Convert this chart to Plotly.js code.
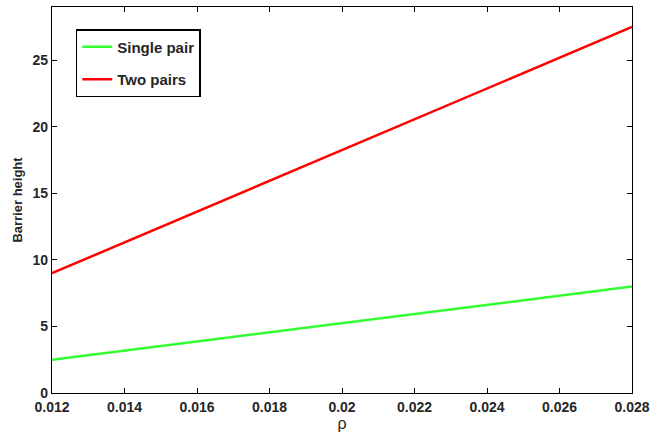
<!DOCTYPE html>
<html>
<head>
<meta charset="utf-8">
<script src="https://cdn.plot.ly/plotly-3.0.1.min.js"></script>
<style>html,body{margin:0;padding:0;background:#fff;}#chart{width:651px;height:436px;}</style>
</head>
<body>
<div id="chart"></div>
<script>
const rho = [0.012, 0.014, 0.016, 0.018, 0.020, 0.022, 0.024, 0.026, 0.028];
const singlePair = [2.5, 3.19, 3.88, 4.56, 5.25, 5.94, 6.63, 7.31, 8.0];
const twoPairs = [9.0, 11.31, 13.63, 15.94, 18.25, 20.56, 22.88, 25.19, 27.5];
const xTicks = [0.012, 0.014, 0.016, 0.018, 0.02, 0.022, 0.024, 0.026, 0.028];
const xTickLabels = ['0.012', '0.014', '0.016', '0.018', '0.02', '0.022', '0.024', '0.026', '0.028'];
const yTicks = [0, 5, 10, 15, 20, 25];

const traces = [
  {x: rho, y: singlePair, name: 'Single pair', mode: 'lines', legendgroup: 'a',
   line: {color: '#33ff33', width: 2.5}},
  {x: rho, y: twoPairs, name: 'Two pairs', mode: 'lines', legendgroup: 'b',
   line: {color: '#ff0000', width: 2.5}}
];

const axisCommon = {
  showgrid: false, zeroline: false, showline: true, linecolor: '#000', linewidth: 1.2,
  mirror: 'ticks', ticks: 'inside', ticklen: 5, tickwidth: 1, tickcolor: '#000',
  tickfont: {family: 'Liberation Sans, Arial, sans-serif', size: 14, color: '#262626', weight: 'bold'}
};

const layout = {
  width: 651, height: 436,
  margin: {l: 52, r: 19, t: 7, b: 43},
  paper_bgcolor: '#fff', plot_bgcolor: '#fff',
  showlegend: true,
  xaxis: Object.assign({}, axisCommon, {
    range: [0.012, 0.028], tickvals: xTicks, ticktext: xTickLabels,
    ticklabelstandoff: 1,
    title: {text: 'ρ', font: {family: 'Liberation Sans, Arial, sans-serif', size: 16, color: '#262626'}, standoff: 2}
  }),
  yaxis: Object.assign({}, axisCommon, {
    range: [0, 29], tickvals: yTicks,
    title: {text: 'Barrier height', font: {family: 'Liberation Sans, Arial, sans-serif', size: 13, color: '#262626', weight: 'bold'}, standoff: 6}
  }),
  legend: {
    x: 0.041, y: 0.943, xanchor: 'left', yanchor: 'top',
    bgcolor: '#fff', bordercolor: '#000', borderwidth: 1.5,
    traceorder: 'grouped', tracegroupgap: 10,
    font: {family: 'Liberation Sans, Arial, sans-serif', size: 15, color: '#262626', weight: 'bold'}
  }
};

Plotly.newPlot('chart', traces, layout, {displayModeBar: false, staticPlot: true});
</script>
</body>
</html>
